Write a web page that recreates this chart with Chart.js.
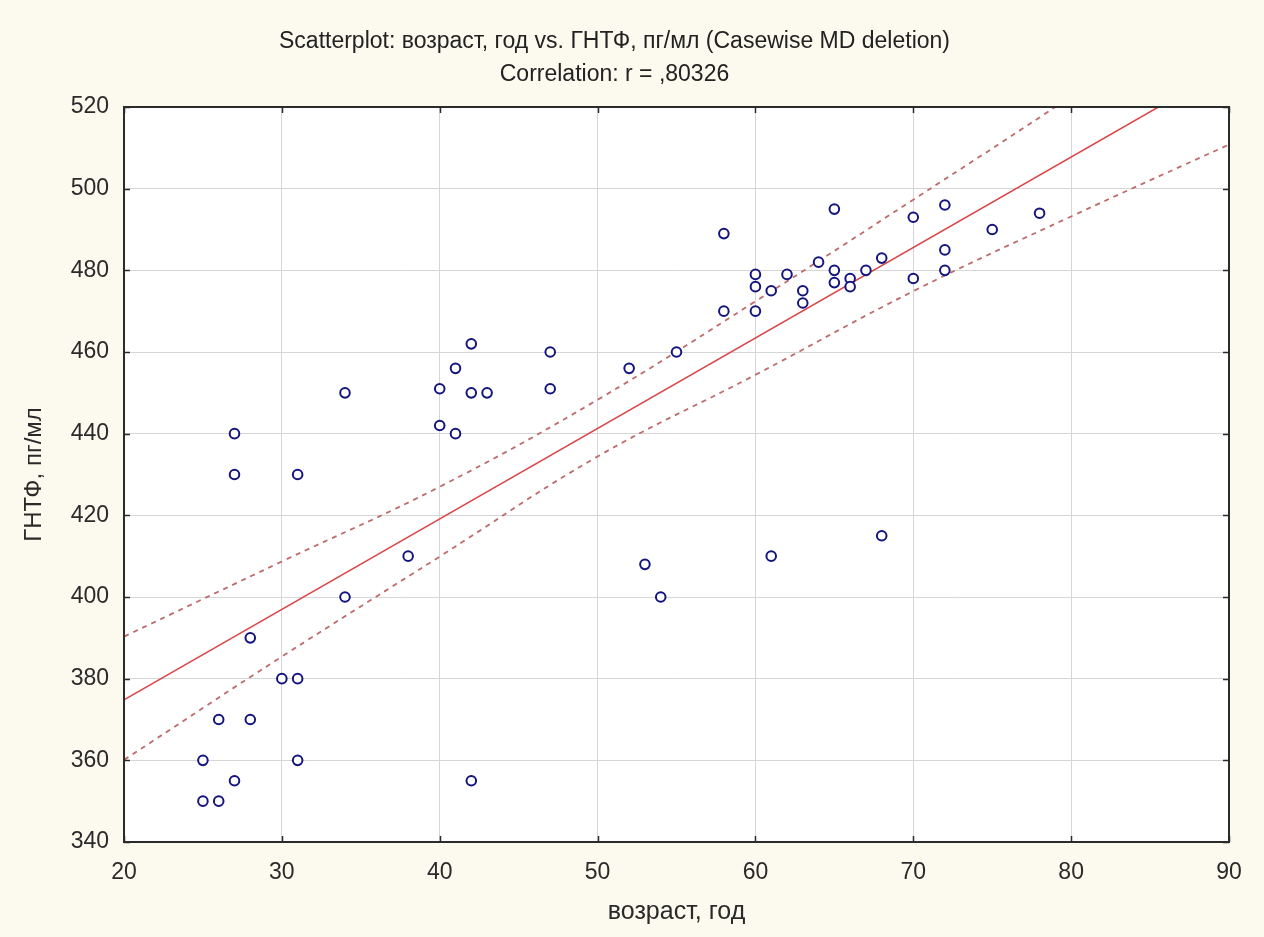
<!DOCTYPE html>
<html>
<head>
<meta charset="utf-8">
<script src="https://cdn.jsdelivr.net/npm/chart.js@4/dist/chart.umd.min.js"></script>
<style>
  html, body { margin: 0; padding: 0; background: #fcf9ef; }
  #wrap { width: 1264px; height: 937px; }
</style>
</head>
<body>
<div id="wrap"><canvas id="chart" width="1264" height="937"></canvas></div>
<script>
// возраст, год
const ages = [
  25, 25, 26, 26, 27, 27, 27, 28, 28, 30, 31, 31, 31, 34, 34, 38, 40, 40, 41, 41,
  42, 42, 42, 43, 47, 47, 52, 53, 54, 55, 58, 58, 60, 60, 60, 61, 61, 62, 63, 63,
  64, 65, 65, 65, 66, 66, 67, 68, 68, 70, 70, 72, 72, 72, 75, 78
];
// ГНТФ, пг/мл
const gntf = [
  360, 350, 350, 370, 355, 430, 440, 390, 370, 380, 380, 360, 430, 450, 400, 410, 451, 442, 456, 440,
  462, 450, 355, 450, 460, 451, 456, 408, 400, 460, 489, 470, 479, 476, 470, 475, 410, 479, 475, 472,
  482, 495, 480, 477, 478, 476, 480, 483, 415, 493, 478, 496, 485, 480, 490, 494
];

// regression line and 95% band
const fitX = [20, 90];
const fitY = [374.8, 529.9];
const bandX = [20, 30, 40, 50, 60, 70, 80, 90];
const bandUpper = [390.3, 408.7, 427.0, 448.3, 472.4, 497.3, 522.6, 549.0];
const bandLower = [360.1, 385.4, 409.9, 434.4, 454.4, 474.9, 493.2, 510.8];

const xTicks = [20, 30, 40, 50, 60, 70, 80, 90];
const yTicks = [340, 360, 380, 400, 420, 440, 460, 480, 500, 520];

const pairs = (xs, ys) => xs.map((v, i) => ({ x: v, y: ys[i] }));

Chart.defaults.font.family = "'Liberation Sans', Arial, sans-serif";
Chart.defaults.color = '#2a2a2a';

// cream page, white plot, dark frame with inner ticks
const framePlugin = {
  id: 'frame',
  beforeDraw(chart) {
    const { ctx, chartArea: a } = chart;
    ctx.save();
    ctx.fillStyle = '#fcf9ef';
    ctx.fillRect(0, 0, chart.width, chart.height);
    ctx.fillStyle = '#ffffff';
    ctx.fillRect(a.left, a.top, a.right - a.left, a.bottom - a.top);
    ctx.restore();
  },
  afterDraw(chart) {
    const { ctx, chartArea: a, scales } = chart;
    const x = scales.x, y = scales.y;
    ctx.save();
    ctx.strokeStyle = '#2b2b2b';
    ctx.lineWidth = 2;
    ctx.strokeRect(a.left, a.top, a.right - a.left, a.bottom - a.top);
    ctx.lineWidth = 1.5;
    ctx.beginPath();
    x.ticks.forEach(t => {
      const px = Math.round(x.getPixelForValue(t.value)) + 0.5;
      ctx.moveTo(px, a.bottom); ctx.lineTo(px, a.bottom - 6);
      ctx.moveTo(px, a.top); ctx.lineTo(px, a.top + 6);
    });
    y.ticks.forEach(t => {
      const py = Math.round(y.getPixelForValue(t.value)) + 0.5;
      ctx.moveTo(a.left, py); ctx.lineTo(a.left + 6, py);
      ctx.moveTo(a.right, py); ctx.lineTo(a.right - 6, py);
    });
    ctx.stroke();
    ctx.restore();
  }
};

new Chart(document.getElementById('chart'), {
  type: 'scatter',
  data: {
    datasets: [
      {
        label: 'data',
        data: pairs(ages, gntf),
        pointRadius: 4.8,
        pointBorderWidth: 2,
        pointBorderColor: '#14147f',
        pointBackgroundColor: '#ffffff',
        order: 0
      },
      {
        label: 'fit',
        data: pairs(fitX, fitY),
        showLine: true,
        pointRadius: 0,
        borderColor: '#d9474a',
        borderWidth: 1.6,
        order: 1
      },
      {
        label: 'upper',
        data: pairs(bandX, bandUpper),
        showLine: true,
        pointRadius: 0,
        tension: 0.4,
        borderColor: '#bf6a6c',
        borderWidth: 1.8,
        borderDash: [5, 5],
        order: 2
      },
      {
        label: 'lower',
        data: pairs(bandX, bandLower),
        showLine: true,
        pointRadius: 0,
        tension: 0.4,
        borderColor: '#bf6a6c',
        borderWidth: 1.8,
        borderDash: [5, 5],
        order: 2
      }
    ]
  },
  options: {
    responsive: false,
    animation: false,
    layout: { padding: { left: 0, right: 35, top: 0, bottom: 0 } },
    plugins: {
      legend: { display: false },
      tooltip: { enabled: false },
      title: {
        display: true,
        text: ['Scatterplot: возраст, год vs. ГНТФ, пг/мл (Casewise MD deletion)', 'Correlation: r = ,80326'],
        font: { size: 23, weight: 'normal', lineHeight: 1.435 },
        color: '#222',
        padding: { top: 25, bottom: 16 }
      }
    },
    scales: {
      x: {
        type: 'linear',
        min: 20,
        max: 90,
        afterBuildTicks: s => { s.ticks = xTicks.map(v => ({ value: v })); },
        afterFit: s => { s.height = 95; },
        grid: { color: '#d6d6d6', lineWidth: 1, drawTicks: false },
        border: { display: false },
        ticks: { padding: 17, font: { size: 23 }, color: '#2a2a2a' },
        title: {
          display: true,
          text: 'возраст, год',
          font: { size: 25 },
          color: '#2a2a2a',
          padding: { top: 0, bottom: 10 }
        }
      },
      y: {
        type: 'linear',
        min: 340,
        max: 520,
        afterBuildTicks: s => { s.ticks = yTicks.map(v => ({ value: v })); },
        afterFit: s => { s.width = 124; },
        grid: { color: '#d6d6d6', lineWidth: 1, drawTicks: false },
        border: { display: false },
        ticks: { padding: 15, font: { size: 23 }, color: '#2a2a2a' },
        title: {
          display: true,
          text: 'ГНТФ, пг/мл',
          font: { size: 24 },
          color: '#2a2a2a',
          padding: { top: 20, bottom: 0 }
        }
      }
    }
  },
  plugins: [framePlugin]
});
</script>
</body>
</html>
